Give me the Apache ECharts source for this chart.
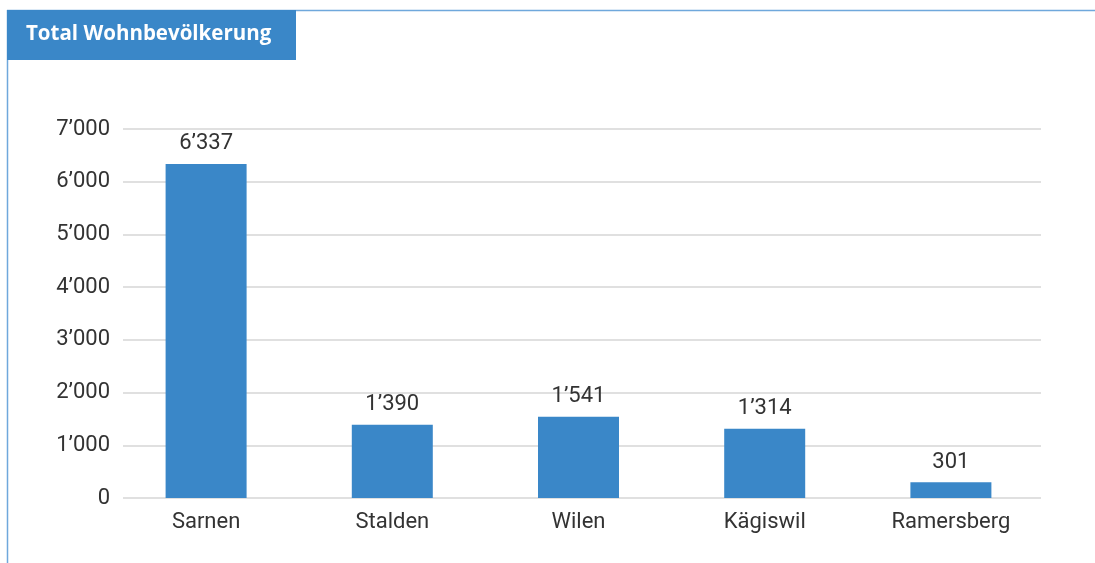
<!DOCTYPE html>
<html><head><meta charset="utf-8">
<script src="https://cdn.jsdelivr.net/npm/echarts@6/dist/echarts.min.js"></script>
<style>html,body{margin:0;padding:0;background:#fff}#c{width:1095px;height:563px}</style>
</head><body><div id="c"></div>
<script>
const categories = ['Sarnen', 'Stalden', 'Wilen', 'Kägiswil', 'Ramersberg'];
const values = [6337, 1390, 1541, 1314, 301];
const yTicks = [0, 1000, 2000, 3000, 4000, 5000, 6000, 7000];
const title = 'Total Wohnbevölkerung';

function fmt(v) {
  const s = String(Math.round(v));
  return s.replace(/\B(?=(\d{3})+(?!\d))/g, '\u2019');
}
const yMin = yTicks[0], yMax = yTicks[yTicks.length - 1];

const chart = echarts.init(document.getElementById('c'));
chart.setOption({
  animation: false,
  grid: [
    { left: 113, right: 51, top: 129, bottom: 65 },
    { left: 123, right: 54, top: 129, bottom: 65 }
  ],
  graphic: [
    { type: 'line', shape: { x1: 7.5, y1: 10, x2: 7.5, y2: 563 }, style: { stroke: '#6fa8dc', lineWidth: 1.5 } },
    { type: 'line', shape: { x1: 7, y1: 10.5, x2: 1095, y2: 10.5 }, style: { stroke: '#6fa8dc', lineWidth: 1.5 } },
    { type: 'rect', shape: { x: 7, y: 10, width: 289, height: 50 }, style: { fill: '#3a87c8' } },
    { type: 'text', left: 26, top: 24, style: { text: title, fill: '#fff', font: 'bold 20.5px "Open Sans", sans-serif' } }
  ],
  xAxis: [{
    type: 'category', gridIndex: 0,
    data: categories,
    axisLine: { show: false },
    axisTick: { show: false },
    axisLabel: { color: '#333', fontSize: 22, fontFamily: 'Roboto', margin: 13 }
  }, {
    type: 'value', gridIndex: 1, show: false
  }],
  yAxis: [{
    type: 'value', gridIndex: 0, show: false,
    min: yMin, max: yMax, interval: 1000,
    splitLine: { show: false }
  }, {
    type: 'value', gridIndex: 1,
    min: yMin, max: yMax, interval: 1000,
    axisLine: { show: false },
    axisTick: { show: false },
    splitLine: { lineStyle: { color: '#e0e0e0', width: 2 } },
    axisLabel: { color: '#333', fontSize: 22, fontFamily: 'Roboto', margin: 13, formatter: fmt }
  }],
  series: [{
    type: 'bar',
    xAxisIndex: 0, yAxisIndex: 0,
    data: values,
    barWidth: 81,
    itemStyle: { color: '#3a87c8' },
    label: { show: true, position: 'top', distance: 9, color: '#333', fontSize: 22, fontFamily: 'Roboto', formatter: p => fmt(p.value) }
  }]
});
</script></body></html>
